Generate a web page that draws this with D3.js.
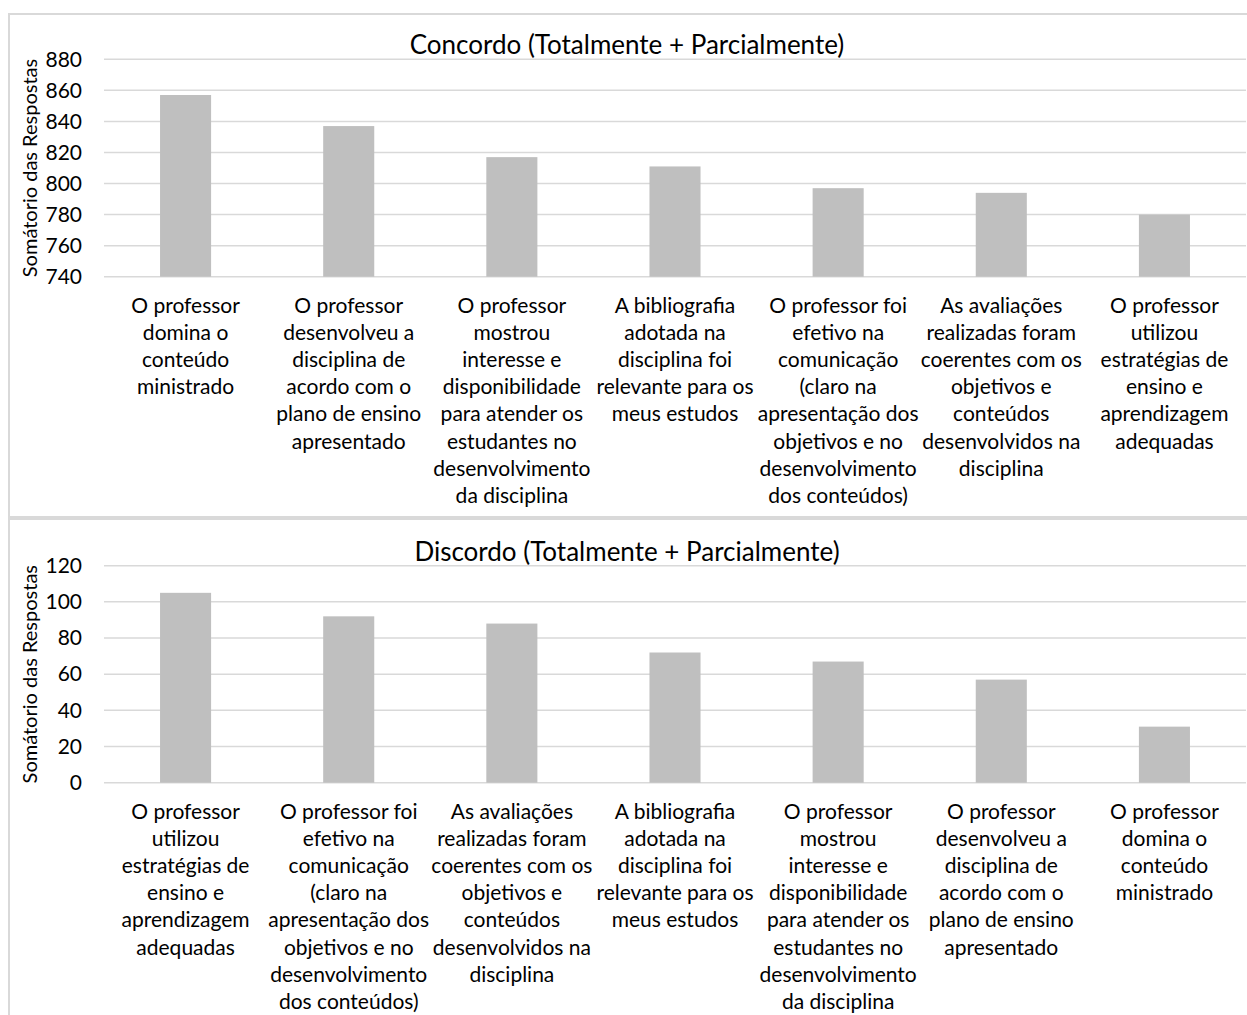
<!DOCTYPE html>
<meta charset="utf-8">
<script src="https://d3js.org/d3.v7.min.js"></script>
<style>
    body { margin: 0; background: #fff; }
    text { font-family: Lato, "Open Sans", sans-serif; fill: #000; }
</style>
<div id="chart"></div>

<script>
    // data
    const topTitle = "Concordo (Totalmente + Parcialmente)";
    const topLabels = [
        ["O professor", "domina o", "conteúdo", "ministrado"],
        ["O professor", "desenvolveu a", "disciplina de", "acordo com o", "plano de ensino", "apresentado"],
        ["O professor", "mostrou", "interesse e", "disponibilidade", "para atender os", "estudantes no", "desenvolvimento", "da disciplina"],
        ["A bibliografia", "adotada na", "disciplina foi", "relevante para os", "meus estudos"],
        ["O professor foi", "efetivo na", "comunicação", "(claro na", "apresentação dos", "objetivos e no", "desenvolvimento", "dos conteúdos)"],
        ["As avaliações", "realizadas foram", "coerentes com os", "objetivos e", "conteúdos", "desenvolvidos na", "disciplina"],
        ["O professor", "utilizou", "estratégias de", "ensino e", "aprendizagem", "adequadas"]
    ];
    const topValues = [857, 837, 817, 811, 797, 794, 780];
    const topTicks = [740, 760, 780, 800, 820, 840, 860, 880];

    const bottomTitle = "Discordo (Totalmente + Parcialmente)";
    const bottomLabels = [topLabels[6], topLabels[4], topLabels[5], topLabels[3], topLabels[2], topLabels[1], topLabels[0]];
    const bottomValues = [105, 92, 88, 72, 67, 57, 31];
    const bottomTicks = [0, 20, 40, 60, 80, 100, 120];

    const yTitle = "Somátorio das Respostas";

    const W = 1247, H = 1015;
    const svg = d3.select("#chart")
        .append("svg")
        .attr("width", W)
        .attr("height", H);

    // chart frames
    svg.append("rect")
        .attr("x", 9).attr("y", 14)
        .attr("width", W + 10).attr("height", 503)
        .attr("fill", "none").attr("stroke", "#d9d9d9").attr("stroke-width", 2);
    svg.append("rect")
        .attr("x", 9).attr("y", 519)
        .attr("width", W + 10).attr("height", 520)
        .attr("fill", "none").attr("stroke", "#d9d9d9").attr("stroke-width", 2);

    function drawChart(opts) {
        const g = svg.append("g");
        const left = 104, right = 1246;

        const x = d3.scaleBand()
            .domain(d3.range(opts.values.length))
            .range([left, right])
            .paddingInner(0.687)
            .paddingOuter(0.687 / 2);

        const y = d3.scaleLinear()
            .domain(d3.extent(opts.ticks))
            .range([opts.bottom, opts.top]);

        // gridlines
        g.append("g")
            .selectAll("line")
            .data(opts.ticks)
            .join("line")
            .attr("x1", left)
            .attr("x2", right)
            .attr("y1", d => y(d))
            .attr("y2", d => y(d))
            .attr("stroke", "#d9d9d9")
            .attr("stroke-width", 1.5);

        // bars
        g.append("g")
            .selectAll("rect")
            .data(opts.values)
            .join("rect")
            .attr("x", (d, i) => x(i))
            .attr("width", x.bandwidth())
            .attr("y", d => y(d))
            .attr("height", d => y(opts.ticks[0]) - y(d))
            .attr("fill", "#bfbfbf");

        // y axis
        const yAxis = g.append("g")
            .attr("transform", `translate(${left - 22},0)`)
            .call(d3.axisLeft(y).tickValues(opts.ticks).tickSize(0).tickPadding(0));
        yAxis.select(".domain").remove();
        yAxis.selectAll("text")
            .attr("font-size", 21)
            .attr("font-family", "Lato")
            .attr("fill", "#000");

        // x axis labels
        const xAxis = g.append("g")
            .attr("transform", `translate(0,${opts.bottom})`)
            .call(d3.axisBottom(x).tickSize(0).tickFormat(""));
        xAxis.select(".domain").remove();
        xAxis.selectAll(".tick text")
            .attr("font-size", 21)
            .attr("font-family", "Lato")
            .attr("fill", "#000")
            .attr("y", 0)
            .attr("dy", null)
            .each(function (d) {
                d3.select(this).selectAll("tspan")
                    .data(opts.labels[d])
                    .join("tspan")
                    .attr("x", 0)
                    .attr("y", (t, j) => 36 + j * 27.2)
                    .text(t => t);
            });

        // title
        g.append("text")
            .attr("x", 627)
            .attr("y", opts.top - 5)
            .attr("text-anchor", "middle")
            .attr("font-size", 26)
            .text(opts.title);

        // y title
        g.append("text")
            .attr("transform", `translate(37,${(opts.top + opts.bottom) / 2}) rotate(-90)`)
            .attr("text-anchor", "middle")
            .attr("font-size", 20)
            .text(yTitle);
    }

    drawChart({
        title: topTitle, labels: topLabels, values: topValues, ticks: topTicks,
        top: 59.3, bottom: 276.7
    });
    drawChart({
        title: bottomTitle, labels: bottomLabels, values: bottomValues, ticks: bottomTicks,
        top: 565.7, bottom: 782.7
    });
</script>
